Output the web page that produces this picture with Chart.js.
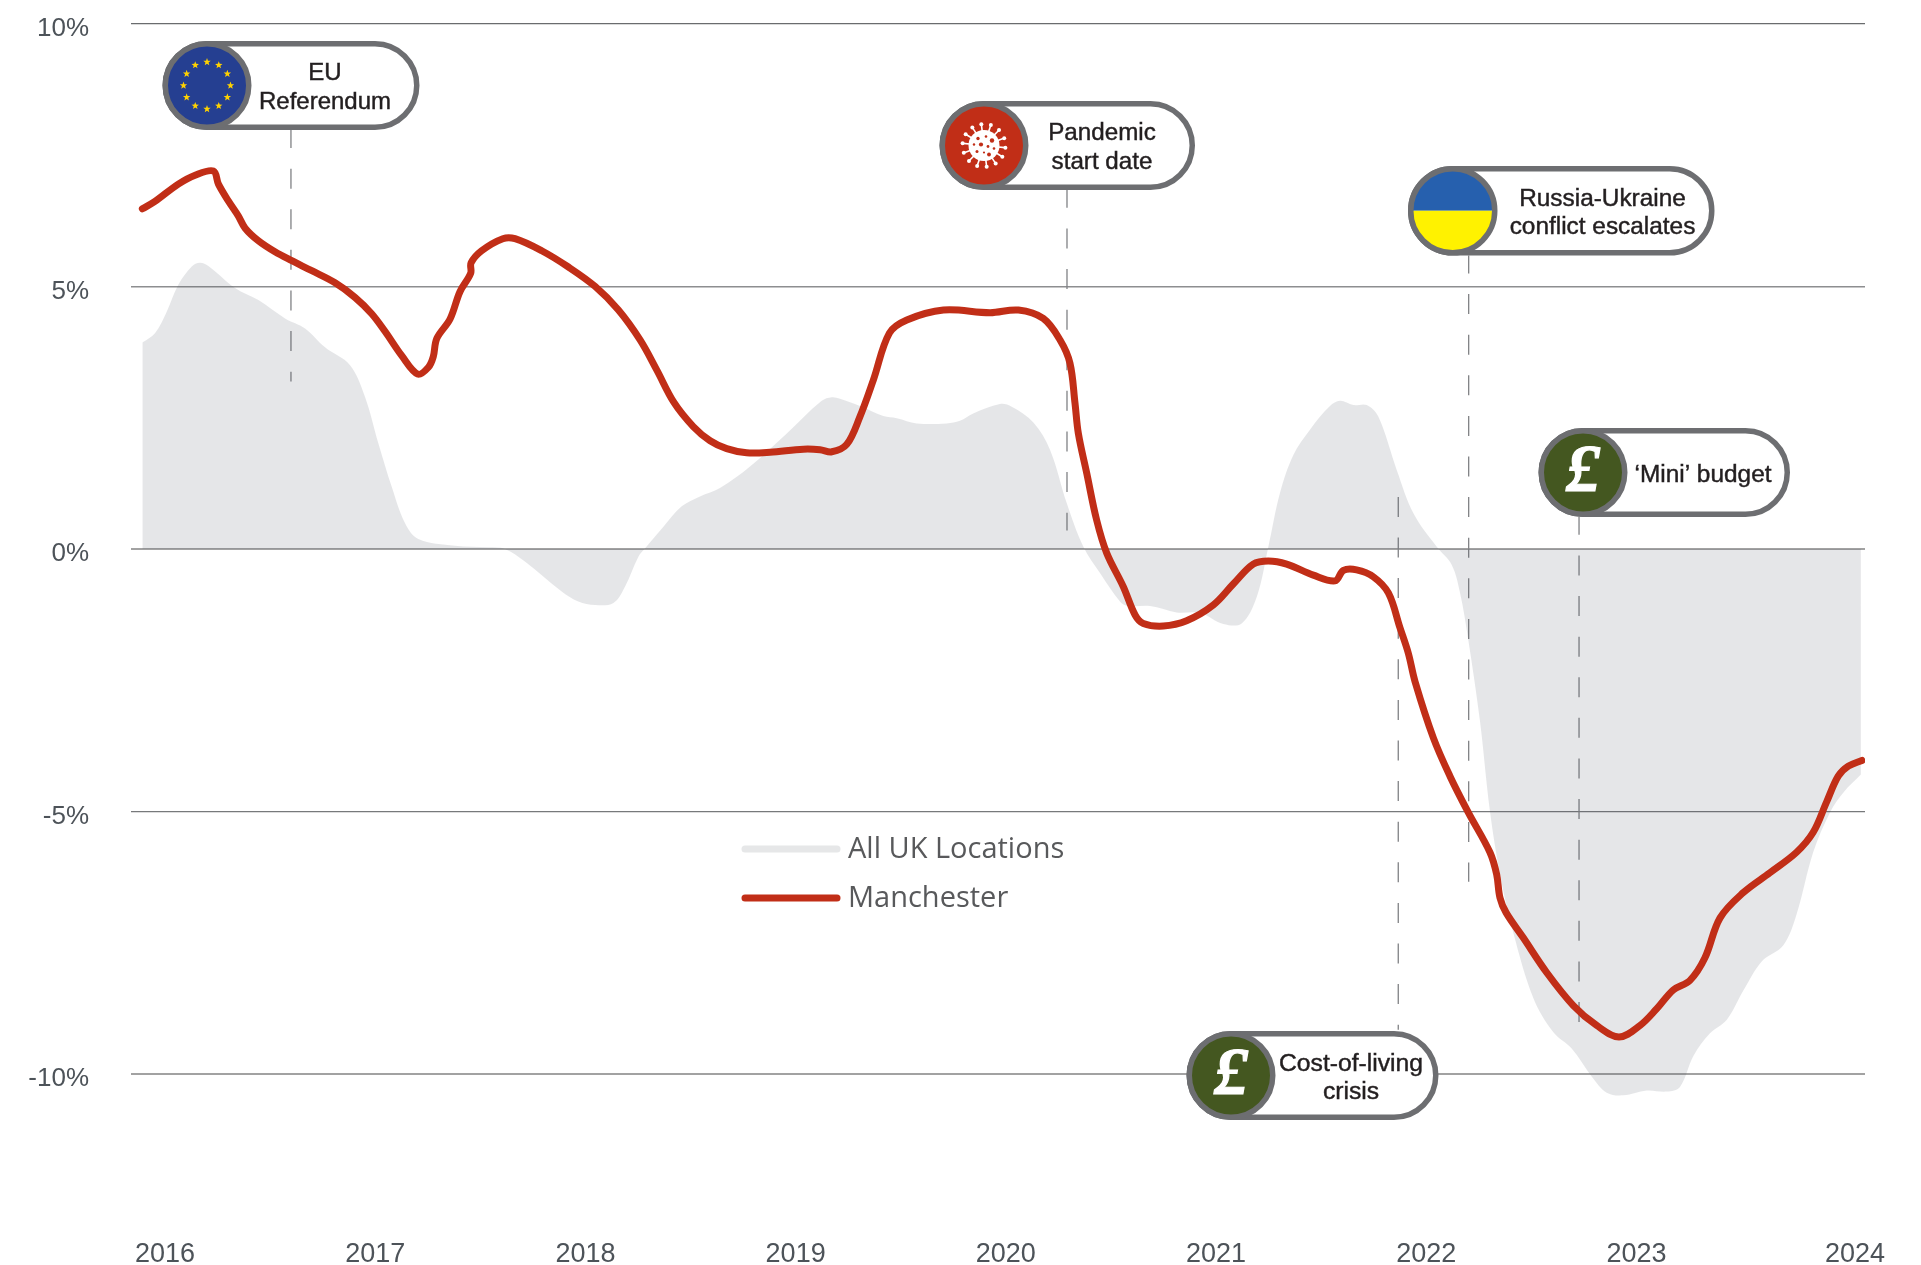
<!DOCTYPE html>
<html><head><meta charset="utf-8">
<style>html,body{margin:0;padding:0;background:#fff}canvas{display:block}</style>
<script src="https://cdn.jsdelivr.net/npm/chart.js@4"></script>
</head><body><canvas id="c" width="1921" height="1265"></canvas>
<script>
const yTicks = [10, 5, 0, -5, -10];
const yearTicks = [2016, 2017, 2018, 2019, 2020, 2021, 2022, 2023, 2024.04];

const ukDates = [2015.892,2015.952,2016.008,2016.063,2016.127,2016.166,2016.206,2016.333,2016.444,2016.571,2016.666,2016.761,2016.880,2016.951,2017.015,2017.078,2017.142,2017.205,2017.379,2017.538,2017.617,2017.712,2017.887,2017.966,2018.046,2018.133,2018.188,2018.252,2018.284,2018.371,2018.458,2018.545,2018.640,2018.783,2018.958,2019.124,2019.172,2019.211,2019.306,2019.417,2019.481,2019.576,2019.719,2019.782,2019.845,2019.972,2020.028,2020.131,2020.210,2020.290,2020.369,2020.448,2020.543,2020.581,2020.686,2020.813,2020.924,2021.035,2021.122,2021.194,2021.249,2021.304,2021.368,2021.447,2021.542,2021.590,2021.653,2021.717,2021.772,2021.860,2021.939,2022.050,2022.121,2022.161,2022.200,2022.256,2022.303,2022.351,2022.414,2022.510,2022.605,2022.692,2022.787,2022.859,2022.938,2023.049,2023.144,2023.207,2023.271,2023.350,2023.430,2023.508,2023.596,2023.699,2023.762,2023.841,2023.921,2023.985,2024.068];
const ukValues = [3.93,4.11,4.52,5.03,5.38,5.45,5.39,4.97,4.74,4.39,4.20,3.84,3.50,2.90,2.01,1.19,0.49,0.19,0.06,0.03,0,-0.24,-0.81,-1.00,-1.07,-1.03,-0.72,-0.15,0.01,0.42,0.81,1.00,1.16,1.57,2.20,2.82,2.89,2.86,2.72,2.53,2.49,2.39,2.39,2.44,2.58,2.76,2.71,2.41,1.89,0.87,0.04,-0.46,-1.00,-1.09,-1.09,-1.21,-1.22,-1.43,-1.42,-0.91,0.04,1.06,1.79,2.27,2.72,2.82,2.74,2.74,2.52,1.50,0.68,0.04,-0.30,-0.84,-1.73,-3.29,-4.99,-6.20,-7.31,-8.56,-9.21,-9.52,-10.05,-10.36,-10.41,-10.32,-10.34,-10.25,-9.66,-9.23,-8.97,-8.42,-7.86,-7.55,-6.96,-5.78,-5.02,-4.64,-4.30];

const manDates = [2015.892,2015.952,2016.063,2016.143,2016.230,2016.254,2016.301,2016.349,2016.381,2016.444,2016.523,2016.603,2016.698,2016.809,2016.904,2016.983,2017.047,2017.126,2017.202,2017.253,2017.276,2017.293,2017.356,2017.403,2017.454,2017.456,2017.506,2017.607,2017.665,2017.792,2017.919,2018.046,2018.157,2018.260,2018.339,2018.421,2018.513,2018.593,2018.672,2018.767,2018.878,2019.037,2019.116,2019.172,2019.243,2019.306,2019.370,2019.446,2019.529,2019.703,2019.925,2020.060,2020.178,2020.258,2020.305,2020.329,2020.345,2020.385,2020.432,2020.480,2020.559,2020.615,2020.654,2020.749,2020.860,2020.987,2021.082,2021.177,2021.249,2021.336,2021.463,2021.566,2021.606,2021.669,2021.748,2021.820,2021.875,2021.915,2021.947,2022.034,2022.113,2022.200,2022.303,2022.335,2022.351,2022.380,2022.462,2022.573,2022.700,2022.811,2022.917,2023.017,2023.097,2023.176,2023.255,2023.326,2023.398,2023.508,2023.635,2023.762,2023.841,2023.905,2023.960,2024.008,2024.073];
const manValues = [6.48,6.62,6.95,7.12,7.20,6.95,6.63,6.34,6.11,5.87,5.66,5.49,5.30,5.07,4.79,4.48,4.14,3.68,3.33,3.46,3.66,4.01,4.38,4.90,5.25,5.45,5.68,5.91,5.91,5.68,5.37,5.00,4.55,3.98,3.41,2.79,2.33,2.06,1.91,1.83,1.84,1.90,1.89,1.85,1.99,2.52,3.22,4.11,4.36,4.55,4.50,4.55,4.39,3.98,3.54,2.78,2.20,1.44,0.55,-0.08,-0.72,-1.26,-1.42,-1.47,-1.37,-1.07,-0.67,-0.29,-0.23,-0.29,-0.50,-0.61,-0.41,-0.40,-0.53,-0.84,-1.50,-1.99,-2.53,-3.60,-4.33,-5.02,-5.78,-6.20,-6.65,-6.93,-7.41,-8.07,-8.70,-9.08,-9.30,-9.08,-8.76,-8.40,-8.22,-7.79,-7.03,-6.55,-6.17,-5.78,-5.40,-4.82,-4.33,-4.14,-4.03];

const eventNames = ["EU Referendum", "Pandemic start date", "Russia-Ukraine conflict escalates", "'Mini' budget", "Cost-of-living crisis"];
const eventDates = [2016.599, 2020.291, 2022.202, 2022.727, 2021.867];
const eventTop = [7.98, 6.84, 5.59, 0.61, 0.99];
const eventBottom = [3.19, 0.35, -6.34, -9.03, -9.16];

const RED = '#c12e17', GREEN = '#445720', EDGE = '#6d6e71', INK = '#231f20';
const LABEL = '"Liberation Sans", Arial, sans-serif';

const callouts = [
 {x0:162.5,x1:419.5,y0:41,y1:130,icon:'eu',  lines:[['EU',325,73,24],['Referendum',325,102,24]]},
 {x0:939.5,x1:1195,y0:101,y1:190,icon:'virus',lines:[['Pandemic',1102,133,24.2],['start date',1102,162.5,24.2]]},
 {x0:1408,x1:1714.5,y0:166,y1:255.5,icon:'ua',lines:[['Russia-Ukraine',1602.5,199,24.4],['conflict escalates',1602.5,227.5,24.4]]},
 {x0:1538.5,x1:1790,y0:428,y1:517,icon:'gbp',lines:[['\u2018Mini\u2019 budget',1703,475,24.4]]},
 {x0:1186.5,x1:1438.5,y0:1031,y1:1120,icon:'gbp',lines:[['Cost-of-living',1351,1064,24.7],['crisis',1351,1092,24.7]]}
];

function star(ctx,cx,cy,r){
  ctx.beginPath();
  for(let i=0;i<10;i++){
    const a=-Math.PI/2+i*Math.PI/5, q=i%2?r*0.42:r;
    ctx.lineTo(cx+q*Math.cos(a),cy+q*Math.sin(a));
  }
  ctx.closePath();ctx.fill();
}
function drawIcon(ctx,kind,cx,cy,R){
  ctx.save();
  ctx.beginPath();ctx.arc(cx,cy,R,0,Math.PI*2);ctx.clip();
  if(kind==='eu'){
    ctx.fillStyle='#253f91';ctx.fillRect(cx-R,cy-R,2*R,2*R);
    ctx.fillStyle='#ffd200';
    for(let i=0;i<12;i++){const a=i*Math.PI/6;star(ctx,cx+23.5*Math.sin(a),cy-23.5*Math.cos(a),3.9);}
  } else if(kind==='virus'){
    ctx.fillStyle=RED;ctx.fillRect(cx-R,cy-R,2*R,2*R);
    ctx.strokeStyle='#fff';ctx.fillStyle='#fff';ctx.lineWidth=1.6;
    for(let i=0;i<14;i++){
      const a=i*Math.PI/7+0.1,c=Math.cos(a),s=Math.sin(a);
      ctx.beginPath();ctx.moveTo(cx+12*c,cy+12*s);ctx.lineTo(cx+21*c,cy+21*s);ctx.stroke();
      ctx.beginPath();ctx.arc(cx+21.5*c,cy+21.5*s,2,0,Math.PI*2);ctx.fill();
    }
    ctx.beginPath();ctx.arc(cx,cy,15.5,0,Math.PI*2);ctx.fill();
    ctx.fillStyle=RED;
    [[-6,-7,1.7],[2,-9,1.3],[8,-5,2.2],[-10,-1,1.2],[-3,-1,2.1],[4,1,1.4],[10,3,1.3],[-7,6,1.5],[0,7,1.1],[5,9,1.9]].forEach(d=>{
      ctx.beginPath();ctx.arc(cx+d[0],cy+d[1],d[2],0,Math.PI*2);ctx.fill();
    });
  } else if(kind==='ua'){
    ctx.fillStyle='#2660ae';ctx.fillRect(cx-R,cy-R,2*R,R);
    ctx.fillStyle='#fff200';ctx.fillRect(cx-R,cy,2*R,R);
  } else {
    ctx.fillStyle=GREEN;ctx.fillRect(cx-R,cy-R,2*R,2*R);
    ctx.fillStyle='#fff';ctx.strokeStyle='#fff';ctx.lineWidth=1.2;ctx.font='italic bold 68px "Liberation Serif", serif';
    ctx.textAlign='center';ctx.textBaseline='middle';
    ctx.fillText('\u00a3',cx,cy+1);ctx.strokeText('\u00a3',cx,cy+1);
  }
  ctx.restore();
}

const annotationPlugin = {
  id:'annotations',
  beforeDatasetsDraw(chart){
    const {ctx,scales:{x,y}} = chart;
    ctx.save();
    ctx.strokeStyle='#808285';ctx.lineWidth=1.3;ctx.setLineDash([20,20.6]);
    eventDates.forEach((d,i)=>{
      ctx.lineDashOffset = i===4 ? 0 : 2;
      const px=x.getPixelForValue(d);
      ctx.beginPath();ctx.moveTo(px,y.getPixelForValue(eventTop[i]));ctx.lineTo(px,y.getPixelForValue(eventBottom[i]));ctx.stroke();
    });
    ctx.restore();
  },
  afterDatasetsDraw(chart){
    const {ctx} = chart;
    ctx.save();
    callouts.forEach(c=>{
      const h=c.y1-c.y0, r=h/2, lw=5.5;
      ctx.beginPath();
      ctx.roundRect(c.x0+lw/2,c.y0+lw/2,c.x1-c.x0-lw,h-lw,r-lw/2);
      ctx.fillStyle='#fff';ctx.fill();
      ctx.lineWidth=lw;ctx.strokeStyle=EDGE;ctx.stroke();
      const cx=c.x0+r, cy=c.y0+r;
      drawIcon(ctx,c.icon,cx,cy,r-lw/2);
      ctx.beginPath();ctx.arc(cx,cy,r-lw/2,0,Math.PI*2);ctx.lineWidth=lw;ctx.strokeStyle=EDGE;ctx.stroke();
      ctx.fillStyle=INK;ctx.strokeStyle=INK;ctx.lineWidth=0.45;
      ctx.textAlign='center';ctx.textBaseline='middle';
      c.lines.forEach(l=>{
        ctx.font=l[3]+'px '+LABEL;
        ctx.fillText(l[0],l[1],l[2]);ctx.strokeText(l[0],l[1],l[2]);
      });
    });
    // legend
    const rows=[[849,chart.data.datasets[1].label,'#e6e7e8'],[898,chart.data.datasets[0].label,RED]];
    rows.forEach(r=>{
      ctx.beginPath();ctx.moveTo(745,r[0]);ctx.lineTo(837,r[0]);
      ctx.lineCap='round';ctx.lineWidth=7;ctx.strokeStyle=r[2];ctx.stroke();
      ctx.fillStyle='#58595b';ctx.font='29px "Open Sans", sans-serif';
      ctx.textAlign='left';ctx.textBaseline='middle';
      ctx.fillText(r[1],848,r[0]+1);
    });
    ctx.restore();
  }
};

const gridStyle = v => v===0 ? ['#a2a2a2',2] : v===-10 ? ['#a2a2a2',2] : v===10 ? ['#6a6c6e',1.2] : v===5 ? ['#8d8e90',1.5] : ['#77797b',1.2];

new Chart(document.getElementById('c'),{
  type:'line',
  data:{datasets:[
    {label:'Manchester',data:manDates.map((d,i)=>({x:d,y:manValues[i]})),borderColor:RED,borderWidth:7,
     borderCapStyle:'round',borderJoinStyle:'round',tension:0.35,pointRadius:0,fill:false,order:0},
    {label:'All UK Locations',data:ukDates.map((d,i)=>({x:d,y:ukValues[i]})),borderWidth:0,borderColor:'transparent',
     backgroundColor:'rgba(69,76,91,0.14)',tension:0.35,pointRadius:0,fill:'origin',order:1}
  ]},
  options:{
    responsive:false,animation:false,
    layout:{padding:{left:0,top:24,right:56,bottom:0}},
    plugins:{legend:{display:false},tooltip:{enabled:false},title:{display:false}},
    scales:{
      x:{type:'linear',min:2015.838,max:2024.0875,
        grid:{display:false},border:{display:false},
        afterBuildTicks(s){s.ticks=yearTicks.map(v=>({value:v}));},
        afterFit(s){s.height=60;s.paddingLeft=0;s.paddingRight=0;},
        ticks:{autoSkip:false,maxRotation:0,minRotation:0,padding:25,color:'#4d5359',
          font:{family:LABEL,size:27},callback:v=>String(Math.floor(v))}},
      y:{type:'linear',min:-12.5,max:10,
        grid:{drawTicks:false,color:c=>gridStyle(c.tick.value)[0],lineWidth:c=>gridStyle(c.tick.value)[1]},
        border:{display:false},
        afterBuildTicks(s){s.ticks=yTicks.map(v=>({value:v}));},
        afterFit(s){s.width=131;s.paddingTop=0;s.paddingBottom=0;},
        ticks:{padding:42,labelOffset:5,color:'#4d5359',font:{family:LABEL,size:26},callback:v=>v+'%'}}
    }
  },
  plugins:[annotationPlugin]
});
</script></body></html>
